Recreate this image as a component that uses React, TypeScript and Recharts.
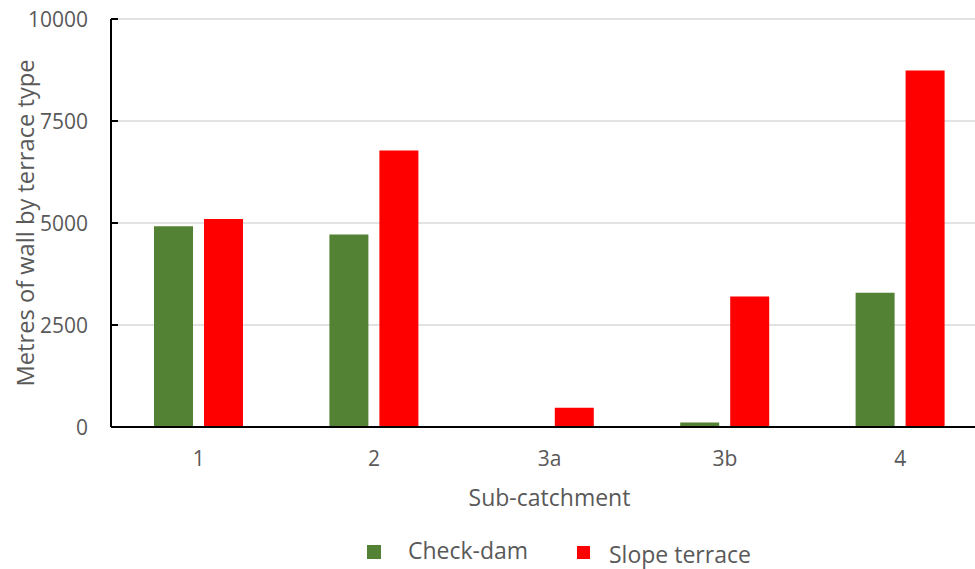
import { BarChart, Bar, XAxis, YAxis, CartesianGrid, Label } from 'recharts'

// Wall length (m) per sub-catchment, split by terrace type
const subCatchments = ['1', '2', '3a', '3b', '4']
const checkDam = [4920, 4720, 0, 110, 3290]
const slopeTerrace = [5100, 6780, 470, 3200, 8740]
const yTicks = [0, 2500, 5000, 7500, 10000]

const FONT = '"Open Sans", "Noto Sans", sans-serif'
const TEXT = '#595959'
const GREEN = '#548235'
const RED = '#ff0000'

const data = subCatchments.map((name, i) => ({
  name,
  checkDam: checkDam[i],
  slopeTerrace: slopeTerrace[i],
}))

// left-axis tick: label plus a short inward tick mark
function YTick(props: any) {
  const { x, y, payload } = props
  return (
    <g>
      <line x1={x} x2={x + 7} y1={y} y2={y} stroke="#000" strokeWidth={2} />
      <text
        x={x - 23}
        y={y}
        textAnchor="end"
        dominantBaseline="central"
        fill={TEXT}
        fontSize={21}
        fontFamily={FONT}
      >
        {payload.value}
      </text>
    </g>
  )
}

export default function App() {
  return (
    <div
      style={{
        position: 'absolute',
        left: 0,
        top: 0,
        width: 975,
        height: 569,
        overflow: 'hidden',
        background: '#fff',
      }}
    >
      <BarChart
        width={988}
        height={569}
        data={data}
        margin={{ top: 19, right: 0, bottom: 82, left: 0 }}
        barSize={39}
        barGap={11}
      >
        <CartesianGrid vertical={false} stroke="#d9d9d9" strokeWidth={1.5} />
        <XAxis
          dataKey="name"
          height={60}
          axisLine={{ stroke: '#000', strokeWidth: 2 }}
          tickLine={false}
          tickSize={0}
          tickMargin={24}
          tick={{ fill: TEXT, fontSize: 21, fontFamily: FONT }}
          label={
            <Label
              content={(p: any) => (
                <text
                  x={p.viewBox.x + p.viewBox.width / 2}
                  y={506}
                  textAnchor="middle"
                  fill={TEXT}
                  fontSize={23}
                  fontFamily={FONT}
                >
                  Sub-catchment
                </text>
              )}
            />
          }
        />
        <YAxis
          width={111}
          domain={[0, 10000]}
          ticks={yTicks}
          interval={0}
          axisLine={{ stroke: '#000', strokeWidth: 2 }}
          tickLine={false}
          tickSize={0}
          tickMargin={0}
          tick={<YTick />}
          label={
            <Label
              content={(p: any) => {
                const cy = p.viewBox.y + p.viewBox.height / 2
                return (
                  <text
                    x={25}
                    y={cy}
                    transform={`rotate(-90 25 ${cy})`}
                    textAnchor="middle"
                    dominantBaseline="central"
                    fill={TEXT}
                    fontSize={23.7}
                    fontFamily={FONT}
                  >
                    Metres of wall by terrace type
                  </text>
                )
              }}
            />
          }
        />
        <Bar dataKey="checkDam" name="Check-dam" fill={GREEN} isAnimationActive={false} />
        <Bar dataKey="slopeTerrace" name="Slope terrace" fill={RED} isAnimationActive={false} />
      </BarChart>

      {/* legend */}
      <svg
        width={975}
        height={569}
        style={{ position: 'absolute', left: 0, top: 0, pointerEvents: 'none' }}
      >
        <rect x={367} y={545} width={14} height={14} fill={GREEN} />
        <text x={408} y={559} fill={TEXT} fontSize={23} fontFamily={FONT}>
          Check-dam
        </text>
        <rect x={577} y={546} width={13} height={13} fill={RED} />
        <text x={609} y={563} fill={TEXT} fontSize={23} fontFamily={FONT}>
          Slope terrace
        </text>
      </svg>
    </div>
  )
}
